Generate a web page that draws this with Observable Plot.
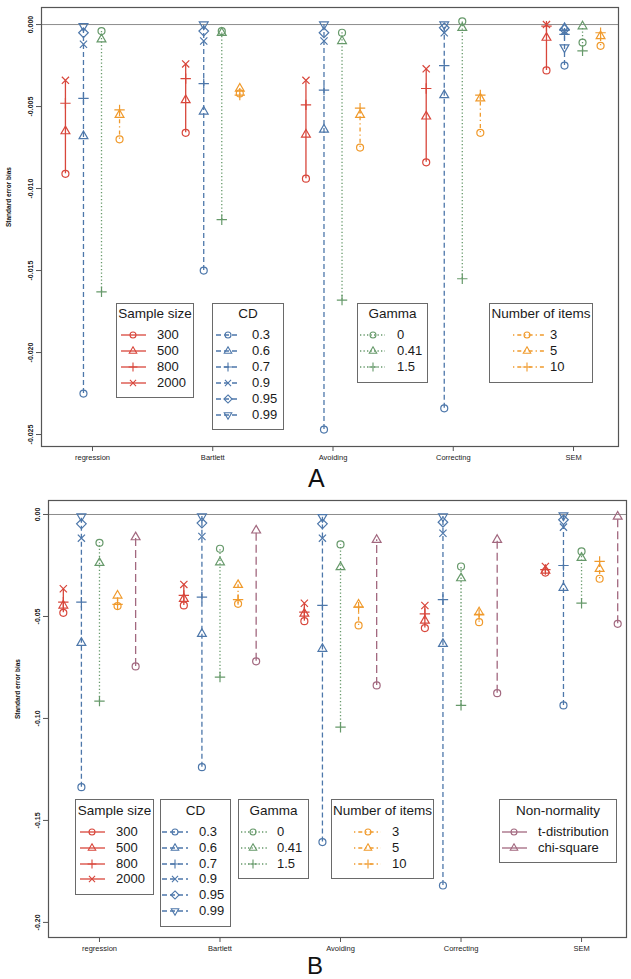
<!DOCTYPE html>
<html><head><meta charset="utf-8">
<script src="https://cdn.jsdelivr.net/npm/d3@7"></script>
<script src="https://cdn.jsdelivr.net/npm/@observablehq/plot@0.6"></script>
<style>
body{margin:0;background:#fff;font-family:"Liberation Sans",Arial,Helvetica,sans-serif;}
#root{position:relative;width:631px;height:979px;overflow:hidden;background:#fff;}
.panel{position:absolute;left:0;}
.leg{position:absolute;border:1px solid #6a6a6a;background:#fff;box-sizing:border-box;color:#1a1a1a;font-size:13px;}
.leg .t{position:absolute;left:0;right:0;text-align:center;line-height:16px;white-space:nowrap;font-size:13.5px;}
.leg .l{position:absolute;line-height:16px;white-space:nowrap;}
.leg svg{position:absolute;overflow:visible;}
.plabel{position:absolute;font-size:25px;line-height:1;color:#111;}
</style></head>
<body><div id="root"></div>
<script>
// ---------------- data ----------------
const methods = ["regression", "Bartlett", "Avoiding", "Correcting", "SEM"];
const sampleLevels = ["300", "500", "800", "2000"];
const cdLevels = ["0.3", "0.6", "0.7", "0.9", "0.95", "0.99"];
const gammaLevels = ["0", "0.41", "1.5"];
const itemLevels = ["3", "5", "10"];
const nonnormLevels = ["t-distribution", "chi-square"];

// Panel A  (values per level, across methods)
const A_n300  = [-0.0091, -0.0066, -0.0094, -0.0084, -0.0028];
const A_n500  = [-0.0065, -0.0046, -0.0067, -0.0056, -0.0008];
const A_n800  = [-0.0048, -0.0033, -0.0049, -0.0039, -0.0001];
const A_n2000 = [-0.0034, -0.0024, -0.0034, -0.0027,  0.0000];

const A_cd03  = [-0.0225, -0.0150, -0.0247, -0.0234, -0.0025];
const A_cd06  = [-0.0068, -0.0053, -0.0064, -0.0043, -0.0002];
const A_cd07  = [-0.0045, -0.0036, -0.0040, -0.0025, -0.0006];
const A_cd09  = [-0.0012, -0.0010, -0.0010, -0.0005, -0.0004];
const A_cd095 = [-0.0005, -0.0004, -0.0005, -0.0002, -0.0003];
const A_cd099 = [-0.0001,  0.0000,  0.0000,  0.0000, -0.0014];

const A_g0   = [-0.0004, -0.0004, -0.0005,  0.0002, -0.0011];
const A_g041 = [-0.0009, -0.0005, -0.0010, -0.0002, -0.0001];
const A_g15  = [-0.0163, -0.0119, -0.0168, -0.0155, -0.0016];

const A_i3  = [-0.0070, -0.0042, -0.0075, -0.0066, -0.0013];
const A_i5  = [-0.0055, -0.0039, -0.0055, -0.0045, -0.0007];
const A_i10 = [-0.0052, -0.0043, -0.0051, -0.0043, -0.0005];

// Panel B
const B_n300  = [-0.0482, -0.0446, -0.0523, -0.0557, -0.0285];
const B_n500  = [-0.0446, -0.0413, -0.0486, -0.0520, -0.0275];
const B_n800  = [-0.0430, -0.0397, -0.0479, -0.0487, -0.0270];
const B_n2000 = [-0.0364, -0.0343, -0.0435, -0.0446, -0.0255];

const B_cd03  = [-0.1337, -0.1239, -0.1606, -0.1819, -0.0936];
const B_cd06  = [-0.0629, -0.0585, -0.0658, -0.0634, -0.0359];
const B_cd07  = [-0.0430, -0.0405, -0.0446, -0.0417, -0.0250];
const B_cd09  = [-0.0116, -0.0108, -0.0116, -0.0092, -0.0062];
const B_cd095 = [-0.0046, -0.0042, -0.0046, -0.0038, -0.0026];
const B_cd099 = [-0.0010, -0.0010, -0.0013, -0.0010, -0.0005];

const B_g0   = [-0.0139, -0.0168, -0.0147, -0.0255, -0.0181];
const B_g041 = [-0.0237, -0.0234, -0.0258, -0.0312, -0.0212];
const B_g15  = [-0.0915, -0.0797, -0.1043, -0.0936, -0.0435];

const B_i3  = [-0.0449, -0.0438, -0.0544, -0.0528, -0.0315];
const B_i5  = [-0.0397, -0.0345, -0.0441, -0.0479, -0.0266];
const B_i10 = [-0.0441, -0.0417, -0.0454, -0.0490, -0.0230];

const B_t   = [-0.0745, -0.0720, -0.0838, -0.0876, -0.0536];
const B_chi = [-0.0111, -0.0078, -0.0124, -0.0124, -0.0010];

const yTicksA = [0, -0.005, -0.010, -0.015, -0.020, -0.025];
const yTicksB = [0, -0.05, -0.10, -0.15, -0.20];

// ---------------- styles ----------------
const RED = "#d8463b", BLUE = "#4d77aa", GREEN = "#66996a", ORANGE = "#f09a2c", PURPLE = "#a2687f";

const shapes = {
  circle: {draw(c){ c.moveTo(3.5, 0); c.arc(0, 0, 3.5, 0, 2 * Math.PI); c.closePath(); }},
  triangle: {draw(c){ c.moveTo(0, -5); c.lineTo(4.4, 2.6); c.lineTo(-4.4, 2.6); c.closePath(); }},
  plus: {draw(c){ c.moveTo(-5.2, 0); c.lineTo(5.2, 0); c.moveTo(0, -5.2); c.lineTo(0, 5.2); }},
  times: {draw(c){ c.moveTo(-3.6, -3.6); c.lineTo(3.6, 3.6); c.moveTo(-3.6, 3.6); c.lineTo(3.6, -3.6); }},
  diamond: {draw(c){ c.moveTo(0, -4.8); c.lineTo(4.8, 0); c.lineTo(0, 4.8); c.lineTo(-4.8, 0); c.closePath(); }},
  triangleDown: {draw(c){ c.moveTo(0, 5); c.lineTo(4.4, -2.6); c.lineTo(-4.4, -2.6); c.closePath(); }}
};

const groupsA = [
  {title: "Sample size", color: RED, dash: null, levels: sampleLevels, values: [A_n300, A_n500, A_n800, A_n2000], syms: ["circle","triangle","plus","times"]},
  {title: "CD", color: BLUE, dash: "5,3", levels: cdLevels, values: [A_cd03, A_cd06, A_cd07, A_cd09, A_cd095, A_cd099], syms: ["circle","triangle","plus","times","diamond","triangleDown"]},
  {title: "Gamma", color: GREEN, dash: "1.3,2.2", levels: gammaLevels, values: [A_g0, A_g041, A_g15], syms: ["circle","triangle","plus"]},
  {title: "Number of items", color: ORANGE, dash: "1.3,3,4,3", levels: itemLevels, values: [A_i3, A_i5, A_i10], syms: ["circle","triangle","plus"]}
];
const groupsB = [
  {title: "Sample size", color: RED, dash: null, levels: sampleLevels, values: [B_n300, B_n500, B_n800, B_n2000], syms: ["circle","triangle","plus","times"]},
  {title: "CD", color: BLUE, dash: "5,3", levels: cdLevels, values: [B_cd03, B_cd06, B_cd07, B_cd09, B_cd095, B_cd099], syms: ["circle","triangle","plus","times","diamond","triangleDown"]},
  {title: "Gamma", color: GREEN, dash: "1.3,2.2", levels: gammaLevels, values: [B_g0, B_g041, B_g15], syms: ["circle","triangle","plus"]},
  {title: "Number of items", color: ORANGE, dash: "1.3,3,4,3", levels: itemLevels, values: [B_i3, B_i5, B_i10], syms: ["circle","triangle","plus"]},
  {title: "Non-normality", color: PURPLE, dash: "8,4", legendDash: null, levels: nonnormLevels, values: [B_t, B_chi], syms: ["circle","triangle"]}
];

function buildMarks(groups, step) {
  const G = groups.length;
  const marks = [];
  groups.forEach((g, gi) => {
    const off = (gi - (G - 1) / 2) * step;
    const spans = methods.map((m, mi) => {
      const vs = g.values.map(v => v[mi]);
      return {x: mi + 1 + off, y1: d3.min(vs), y2: d3.max(vs)};
    });
    marks.push(Plot.ruleX(spans, {x: "x", y1: "y1", y2: "y2", stroke: g.color, strokeWidth: 1.3, strokeDasharray: g.dash || undefined}));
  });
  groups.forEach((g, gi) => {
    const off = (gi - (G - 1) / 2) * step;
    g.levels.forEach((lev, li) => {
      const rows = methods.map((m, mi) => ({x: mi + 1 + off, y: g.values[li][mi], level: lev}));
      marks.push(Plot.dot(rows, {x: "x", y: "y", r: 3.5, symbol: shapes[g.syms[li]], stroke: g.color, fill: "none", strokeWidth: 1.2}));
    });
  });
  return marks;
}

function makePanel(groups, opts) {
  return Plot.plot({
    width: 631,
    height: opts.height,
    marginTop: 7, marginBottom: 24, marginLeft: opts.ml, marginRight: opts.mr,
    style: {fontFamily: '"Liberation Sans", Arial, sans-serif', fontSize: "7.5px", color: "#222", background: "#fff"},
    x: {type: "linear", domain: opts.xdom},
    y: {domain: opts.ydom},
    marks: [
      Plot.ruleY([0], {stroke: "#8c8c8c", strokeWidth: 1}),
      ...buildMarks(groups, opts.step),
      Plot.frame({stroke: "#555", strokeWidth: 1.2}),
      Plot.axisX({ticks: [1, 2, 3, 4, 5], tickFormat: i => methods[i - 1], tickSize: 5, tickPadding: 3, label: null, fontSize: 7.5, stroke: "#555"}),
      Plot.axisY({ticks: opts.yticks, tickFormat: d => d.toFixed(opts.dec), tickRotate: -90, tickSize: 5, tickPadding: 4, label: null, fontSize: 7, fontWeight: "bold", stroke: "#555"}),
      Plot.text(["Standard error bias"], {frameAnchor: "left", dx: opts.titleDx, rotate: -90, fontWeight: "bold", fontSize: 6.5, fill: "#111"})
    ]
  });
}

const root = document.getElementById("root");

const pA = makePanel(groupsA, {height: 470, ml: 41, mr: 13, xdom: [0.576, 5.374], ydom: [-0.02573, 0.00104], step: 0.15, yticks: yTicksA, dec: 3, titleDx: -33});
const wA = document.createElement("div"); wA.className = "panel"; wA.style.top = "0px"; wA.appendChild(pA); root.appendChild(wA);

const pB = makePanel(groupsB, {height: 468, ml: 48, mr: 5, xdom: [0.577, 5.373], ydom: [-0.2074, 0.00686], step: 0.15, yticks: yTicksB, dec: 2, titleDx: -31});
const wB = document.createElement("div"); wB.className = "panel"; wB.style.top = "493px"; wB.appendChild(pB); root.appendChild(wB);

// panel letters
function letter(txt, left, top, size) {
  const d = document.createElement("div"); d.className = "plabel"; d.textContent = txt;
  d.style.left = left + "px"; d.style.top = top + "px"; d.style.fontSize = size + "px";
  root.appendChild(d);
}
letter("A", 308, 466, 25);
letter("B", 307, 954, 24);

// legends
function legend(g, spec) {
  const box = document.createElement("div"); box.className = "leg";
  Object.assign(box.style, {left: spec.left + "px", top: spec.top + "px", width: spec.w + "px", height: spec.h + "px"});
  const t = document.createElement("div"); t.className = "t"; t.textContent = g.title;
  t.style.top = (spec.titleY - spec.top - 8 - 1) + "px"; box.appendChild(t);
  const dash = ("legendDash" in g) ? g.legendDash : g.dash;
  g.levels.forEach((lev, i) => {
    const cy = spec.row0 - spec.top - 1 + i * spec.dy;
    const ns = "http://www.w3.org/2000/svg";
    const svg = document.createElementNS(ns, "svg");
    svg.setAttribute("width", spec.w); svg.setAttribute("height", 14);
    svg.style.left = "-1px"; svg.style.top = (cy - 7) + "px";
    const line = document.createElementNS(ns, "line");
    line.setAttribute("x1", spec.sx0); line.setAttribute("x2", spec.sx1);
    line.setAttribute("y1", 7); line.setAttribute("y2", 7);
    line.setAttribute("stroke", g.color); line.setAttribute("stroke-width", 1.3);
    if (dash) line.setAttribute("stroke-dasharray", dash);
    svg.appendChild(line);
    const p = d3.path(); shapes[g.syms[i]].draw(p);
    const path = document.createElementNS(ns, "path");
    path.setAttribute("d", p.toString());
    path.setAttribute("transform", `translate(${spec.sym},7) scale(0.85)`);
    path.setAttribute("fill", "none"); path.setAttribute("stroke", g.color); path.setAttribute("stroke-width", 1.3);
    svg.appendChild(path);
    box.appendChild(svg);
    const l = document.createElement("div"); l.className = "l"; l.textContent = lev;
    l.style.left = (spec.lx - 1) + "px"; l.style.top = (cy - 8) + "px";
    box.appendChild(l);
  });
  root.appendChild(box);
}

// Panel A legends
legend(groupsA[0], {left: 116, top: 303, w: 78, h: 95, titleY: 314, row0: 335, dy: 16, sx0: 5, sx1: 30, sym: 17, lx: 41});
legend(groupsA[1], {left: 212, top: 303, w: 72, h: 127, titleY: 314, row0: 335, dy: 16, sx0: 4, sx1: 27, sym: 16, lx: 40});
legend(groupsA[2], {left: 357, top: 303, w: 71, h: 80, titleY: 314, row0: 335, dy: 16, sx0: 3, sx1: 28, sym: 16, lx: 40});
legend(groupsA[3], {left: 489, top: 303, w: 104, h: 80, titleY: 314, row0: 335, dy: 16, sx0: 24, sx1: 56, sym: 38, lx: 61});

// Panel B legends
legend(groupsB[0], {left: 75, top: 799, w: 79, h: 96, titleY: 811, row0: 832, dy: 15.8, sx0: 5, sx1: 30, sym: 17, lx: 41});
legend(groupsB[1], {left: 160, top: 799, w: 71, h: 128, titleY: 811, row0: 832, dy: 15.8, sx0: 2, sx1: 28, sym: 15, lx: 39});
legend(groupsB[2], {left: 238, top: 799, w: 71, h: 80, titleY: 811, row0: 832, dy: 15.8, sx0: 3, sx1: 29, sym: 15, lx: 39});
legend(groupsB[3], {left: 331, top: 799, w: 103, h: 80, titleY: 811, row0: 832, dy: 15.8, sx0: 23, sx1: 50, sym: 37, lx: 61});
legend(groupsB[4], {left: 499, top: 799, w: 118, h: 64, titleY: 811, row0: 832, dy: 15.8, sx0: 3, sx1: 28, sym: 15, lx: 39});
</script>
</body></html>
